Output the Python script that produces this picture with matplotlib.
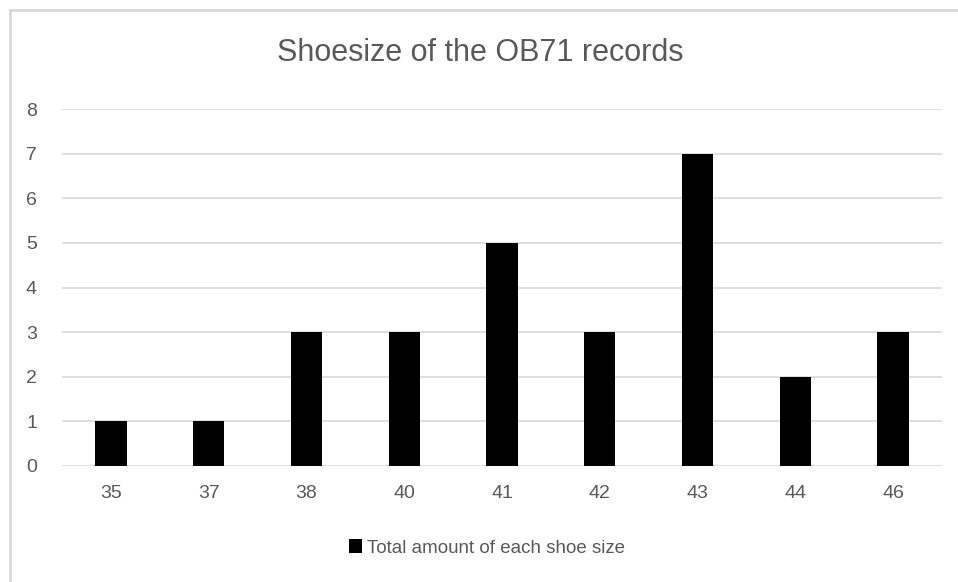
import matplotlib.pyplot as plt
from matplotlib import font_manager
from matplotlib.lines import Line2D

sizes = ['35', '37', '38', '40', '41', '42', '43', '44', '46']
counts = [1, 1, 3, 3, 5, 3, 7, 2, 3]
yticks = [0, 1, 2, 3, 4, 5, 6, 7, 8]

names = {f.name for f in font_manager.fontManager.ttflist}
fam = ['Liberation Sans Narrow', 'DejaVu Sans'] if 'Liberation Sans Narrow' in names else ['Liberation Sans', 'DejaVu Sans']
plt.rcParams['font.family'] = fam

fig = plt.figure(figsize=(9.58, 5.82), dpi=100)
ax = fig.add_axes([62/958, 1-466/582, 880/958, 357/582])

x = range(len(sizes))
ax.bar(x, counts, width=0.32, color='black', label='Total amount of each shoe size', zorder=3)
ax.set_xlim(-0.5, len(sizes)-0.5)
ax.set_ylim(0, 8)
ax.set_yticks(yticks)
ax.set_xticks(list(x))
ax.set_xticklabels(sizes)
ax.grid(axis='y', color='#d9d9d9', linewidth=1.2, zorder=0)
for s in ax.spines.values():
    s.set_visible(False)
ax.tick_params(length=0, labelsize=14, labelcolor='#595959')
ax.tick_params(axis='x', pad=14)
ax.tick_params(axis='y', pad=18)

fig.text(480/958, 1-53/582, 'Shoesize of the OB71 records', ha='center', va='center',
         fontsize=22, color='#595959')

leg = fig.legend(loc='center', bbox_to_anchor=(487/958, 1-548/582), frameon=False,
                 fontsize=13.5, handlelength=0.7, handleheight=0.7, handletextpad=0.3)
for t in leg.get_texts():
    t.set_color('#595959')

# light chart border (top and left visible)
fig.add_artist(Line2D([10/958, 1], [1-10/582, 1-10/582], color='#d9d9d9', lw=2, transform=fig.transFigure))
fig.add_artist(Line2D([10/958, 10/958], [0, 1-10/582], color='#d9d9d9', lw=2, transform=fig.transFigure))

fig.savefig('out.png', dpi=100, facecolor='white')
